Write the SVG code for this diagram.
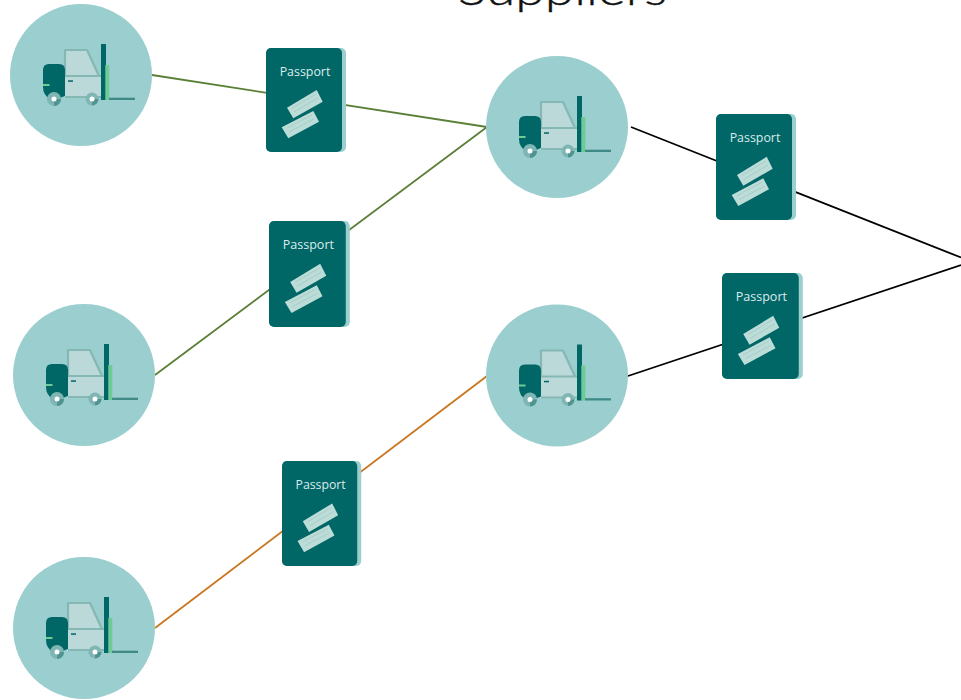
<svg xmlns="http://www.w3.org/2000/svg" width="961" height="700" viewBox="0 0 961 700">
<style>
.t{font-family:"Open Sans","Liberation Sans",sans-serif;font-size:12.4px;fill:#dcecec;text-anchor:middle}
.l{fill:none;stroke-width:1.8}
.title{font-family:"Lato","Liberation Sans",sans-serif;font-weight:300;font-size:42px;fill:#111;stroke:#111;stroke-width:.4}
</style>
<defs>
<g id="fork">
<circle r="71" fill="#9bcece"/>
<path d="M-16-25H6L18 1V3H-16Z" fill="#bcd9d9" stroke="#85b8b4" stroke-width="2.200" stroke-linejoin="round"/>
<path d="M-17 1H20V23H-17Z" fill="#bcd9d9"/>
<path d="M-16 1H20" stroke="#85b8b4" stroke-width="2"/>
<path d="M-16 22H20" stroke="#85b8b4" stroke-width="2"/>
<rect x="-13" y="5.300" width="5" height="1.500" fill="#006666"/>
<path d="M-32-11H-22Q-16-11-16-5V21L-24 24H-31Q-38 20-38 12V-5Q-38-11-32-11Z" fill="#006666"/>
<rect x="-38" y="9" width="6.500" height="2" fill="#6fcb96"/>
<rect x="20" y="-31" width="5" height="56" fill="#006666"/>
<rect x="24.300" y="-10" width="4" height="35" fill="#6fcb96"/>
<rect x="28" y="22.700" width="26" height="2.300" fill="#3f8a87"/>
<circle cx="-27" cy="24" r="7" fill="#7fb6b3"/><path d="M-27 24V31A7 7 0 0 0-20 24Z" fill="#4f9491"/><circle cx="-27" cy="24" r="2.500" fill="#fff"/>
<circle cx="11" cy="24" r="6.500" fill="#7fb6b3"/><path d="M11 24V30.500A6.500 6.500 0 0 0 17.500 24Z" fill="#4f9491"/><circle cx="11" cy="24" r="2.500" fill="#fff"/>
</g>
<g id="pass">
<rect x="0" y="0" width="80" height="104" rx="5" fill="#9bcece"/>
<rect x="0" y="0" width="76" height="104" rx="5" fill="#006666"/>
<text class="t" x="39" y="27.500">Passport</text>
<g fill="#bcdcd8">
<path d="M21 59.700 50.700 42 56.700 53.700 27.300 70.300Z"/>
<path d="M15.700 79.300 47.300 63 53 73.700 22.300 90.300Z"/>
</g>
<g fill="none" stroke="#9cc8c4" stroke-width=".7">
<path d="M26 60 50 46M28 64 52 50"/><path d="M21 80 46 67M23 84 48 71"/>
</g>
</g>
</defs>
<text class="title" x="458" y="5" textLength="209" lengthAdjust="spacingAndGlyphs">Suppliers</text>
<g id="connectors">
<path class="l" stroke="#5a8038" d="M152 75 487 127M155 375 487 127"/>
<path class="l" stroke="#c9761f" d="M155 628 487 376"/>
<path class="l" stroke="#000" d="M631 127 961 257.500M628 376 961 265"/>
</g>
<g id="n1"><use href="#fork" x="81" y="75"/></g>
<g id="n2"><use href="#fork" x="84" y="375"/></g>
<g id="n3"><use href="#fork" x="84" y="628"/></g>
<g id="n4"><use href="#fork" x="557" y="127"/></g>
<g id="n5"><use href="#fork" x="557" y="375.500"/></g>
<g id="p1"><use href="#pass" x="266" y="48"/></g>
<g id="p2"><use href="#pass" transform="translate(269 221) scale(1.01 1.02)"/></g>
<g id="p3"><use href="#pass" transform="translate(716 114) scale(1 1.02)"/></g>
<g id="p4"><use href="#pass" transform="translate(722 273) scale(1.01 1.02)"/></g>
<g id="p5"><use href="#pass" transform="translate(282 461) scale(.99 1.01)"/></g>
</svg>
